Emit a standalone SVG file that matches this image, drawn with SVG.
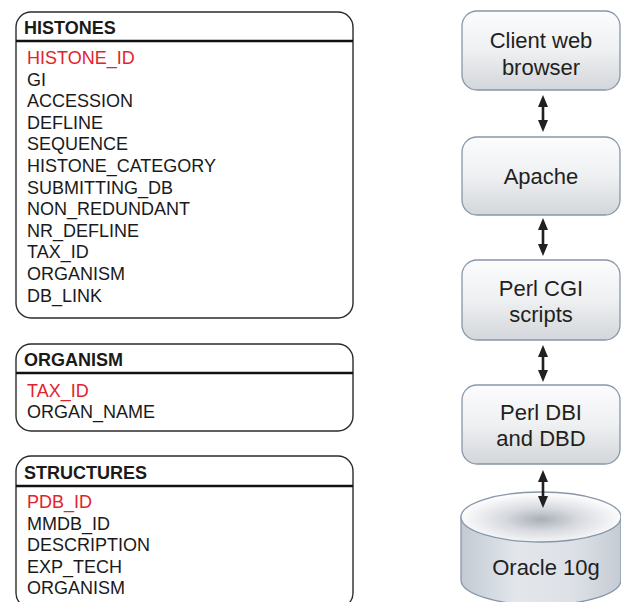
<svg xmlns="http://www.w3.org/2000/svg" width="621" height="602" viewBox="0 0 621 602">
<style>
  .tbl { fill: #ffffff; stroke: #2b2b2b; stroke-width: 1.4; }
  .hdr { stroke: #111111; stroke-width: 2.6; }
  .ttl { font-family: "Liberation Sans", Arial, sans-serif; font-weight: bold; font-size: 18px; fill: #1a1a1a; }
  .fld { font-family: "Liberation Sans", Arial, sans-serif; font-size: 18px; fill: #1a1a1a; }
  .key { fill: #e3232b; }
  .box { fill: url(#boxGrad); stroke: #8797a9; stroke-width: 1.3; }
  .lbl { font-family: "Liberation Sans", Arial, sans-serif; font-size: 22px; fill: #231f20; text-anchor: middle; }
  .conn { stroke: #231f20; stroke-width: 2.6; fill: none; marker-start: url(#ah); marker-end: url(#ah); }
</style>
<defs>
  <linearGradient id="boxGrad" x1="0" y1="0" x2="0" y2="1">
    <stop offset="0" stop-color="#fcfcfd"/>
    <stop offset="0.5" stop-color="#eef0f2"/>
    <stop offset="1" stop-color="#d3d6da"/>
  </linearGradient>
  <linearGradient id="sideGrad" x1="0" y1="0" x2="1" y2="0">
    <stop offset="0" stop-color="#c3cad3"/>
    <stop offset="0.35" stop-color="#e3e7ec"/>
    <stop offset="0.7" stop-color="#dde1e7"/>
    <stop offset="1" stop-color="#c6ccd4"/>
  </linearGradient>
  <radialGradient id="topGrad" cx="0.5" cy="0.55" r="0.5">
    <stop offset="0" stop-color="#a9afb8"/>
    <stop offset="0.45" stop-color="#d6d9de"/>
    <stop offset="1" stop-color="#fbfbfc"/>
  </radialGradient>
  <marker id="ah" viewBox="0 0 12 10" refX="2" refY="5" markerWidth="12" markerHeight="10" markerUnits="userSpaceOnUse" orient="auto-start-reverse">
    <path d="M0,0 L12,5 L0,10 z" fill="#231f20"/>
  </marker>
</defs>

<g id="histones">
  <rect class="tbl" x="16" y="12" width="337" height="306" rx="15" ry="15"/>
  <line class="hdr" x1="16" y1="41" x2="353" y2="41"/>
  <text class="ttl" x="24" y="34">HISTONES</text>
  <text class="fld key" x="27" y="64">HISTONE_ID</text>
  <text class="fld" x="27" y="85.6">GI</text>
  <text class="fld" x="27" y="107.2">ACCESSION</text>
  <text class="fld" x="27" y="128.8">DEFLINE</text>
  <text class="fld" x="27" y="150.4">SEQUENCE</text>
  <text class="fld" x="27" y="172">HISTONE_CATEGORY</text>
  <text class="fld" x="27" y="193.6">SUBMITTING_DB</text>
  <text class="fld" x="27" y="215.2">NON_REDUNDANT</text>
  <text class="fld" x="27" y="236.8">NR_DEFLINE</text>
  <text class="fld" x="27" y="258.4">TAX_ID</text>
  <text class="fld" x="27" y="280">ORGANISM</text>
  <text class="fld" x="27" y="301.6">DB_LINK</text>
</g>

<g id="organism">
  <rect class="tbl" x="16" y="344" width="337" height="87" rx="15" ry="15"/>
  <line class="hdr" x1="16" y1="373" x2="353" y2="373"/>
  <text class="ttl" x="24" y="366">ORGANISM</text>
  <text class="fld key" x="27" y="397">TAX_ID</text>
  <text class="fld" x="27" y="418">ORGAN_NAME</text>
</g>

<g id="structures">
  <rect class="tbl" x="16" y="456" width="337" height="152" rx="15" ry="15"/>
  <line class="hdr" x1="16" y1="486" x2="353" y2="486"/>
  <text class="ttl" x="24" y="479">STRUCTURES</text>
  <text class="fld key" x="27" y="508">PDB_ID</text>
  <text class="fld" x="27" y="529.5">MMDB_ID</text>
  <text class="fld" x="27" y="551">DESCRIPTION</text>
  <text class="fld" x="27" y="572.5">EXP_TECH</text>
  <text class="fld" x="27" y="594">ORGANISM</text>
</g>

<g id="client">
  <rect class="box" x="462" y="11" width="158" height="79" rx="15" ry="15"/>
  <text class="lbl" x="541" y="48">Client web</text>
  <text class="lbl" x="541" y="75">browser</text>
</g>

<g id="apache">
  <rect class="box" x="462" y="137" width="158" height="78" rx="15" ry="15"/>
  <text class="lbl" x="541" y="184">Apache</text>
</g>

<g id="perlcgi">
  <rect class="box" x="462" y="260" width="158" height="80" rx="15" ry="15"/>
  <text class="lbl" x="541" y="296">Perl CGI</text>
  <text class="lbl" x="541" y="322">scripts</text>
</g>

<g id="perldbi">
  <rect class="box" x="462" y="385" width="158" height="79" rx="15" ry="15"/>
  <text class="lbl" x="541" y="420">Perl DBI</text>
  <text class="lbl" x="541" y="446">and DBD</text>
</g>

<g id="oracle">
  <path d="M461 517 L461 580 A80 25 0 0 0 621 580 L621 517 Z" fill="url(#sideGrad)" stroke="#8797a9" stroke-width="1.3"/>
  <ellipse cx="541" cy="517" rx="80" ry="25" fill="url(#topGrad)" stroke="#8797a9" stroke-width="1.3"/>
  <text class="lbl" x="546" y="575">Oracle 10g</text>
</g>

<g id="connectors">
  <line class="conn" x1="543" y1="105" x2="543" y2="122"/>
  <line class="conn" x1="543" y1="228" x2="543" y2="246"/>
  <line class="conn" x1="543" y1="355" x2="543" y2="372"/>
  <line class="conn" x1="543" y1="480" x2="543" y2="498"/>
</g>
</svg>
